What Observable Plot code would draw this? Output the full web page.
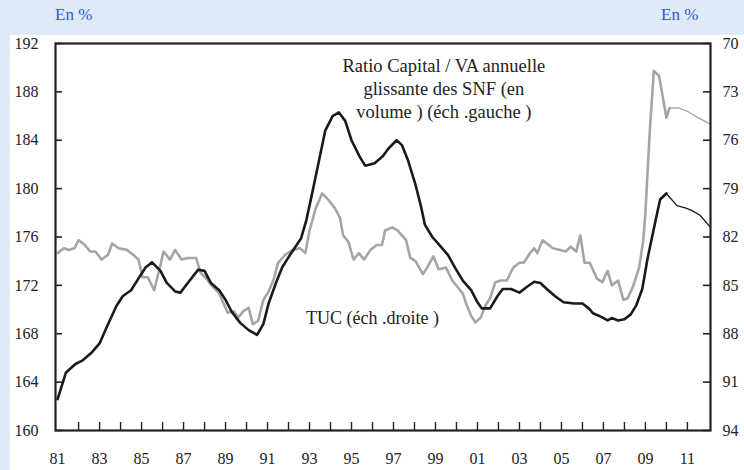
<!DOCTYPE html>
<html><head><meta charset="utf-8">
<script src="https://cdn.jsdelivr.net/npm/d3@7"></script>
<script src="https://cdn.jsdelivr.net/npm/@observablehq/plot@0.6"></script>
<style>
html,body{margin:0;padding:0;background:#dfe9f7;}
</style></head>
<body>
<div id="wrap" style="position:relative;width:744px;height:470px;background:#dfe9f7;overflow:hidden;font-family:'Liberation Serif'">
  <div style="position:absolute;top:5px;left:55px;font-size:17px;color:#2a5bd0;font-family:'Liberation Serif'">En %</div>
  <div style="position:absolute;top:5px;left:661px;font-size:17px;color:#2a5bd0;font-family:'Liberation Serif'">En %</div>
  <div id="chart" style="position:absolute;left:10px;top:35px;width:734px;height:435px;background:#fff;"></div>
</div>
<script>
// Ratio Capital / VA (left axis)
const capYears = [1981.0,1981.4,1981.85,1982.2,1982.6,1983.0,1983.3,1983.8,1984.1,1984.5,1984.9,1985.2,1985.5,1985.9,1986.2,1986.6,1986.85,1987.2,1987.7,1988.0,1988.3,1988.7,1989.0,1989.3,1989.7,1990.1,1990.5,1990.8,1991.05,1991.4,1991.7,1992.1,1992.6,1992.85,1993.1,1993.4,1993.75,1994.1,1994.4,1994.7,1995.0,1995.4,1995.65,1996.1,1996.5,1996.75,1997.15,1997.4,1997.7,1998.05,1998.3,1998.5,1998.85,1999.2,1999.6,1999.95,2000.3,2000.7,2001.0,2001.2,2001.6,2001.95,2002.2,2002.6,2003.0,2003.3,2003.7,2004.0,2004.3,2004.7,2005.1,2005.6,2006.0,2006.3,2006.5,2006.9,2007.2,2007.4,2007.7,2008.0,2008.3,2008.55,2008.85,2009.1,2009.45,2009.7,2010.0];
const capValues = [162.6,164.8,165.5,165.8,166.4,167.2,168.4,170.3,171.1,171.6,172.7,173.5,173.9,173.2,172.2,171.5,171.4,172.2,173.3,173.2,172.2,171.6,170.8,169.8,168.9,168.3,167.9,168.8,170.5,172.2,173.5,174.6,175.9,177.4,179.4,181.9,184.8,186.0,186.3,185.6,184.0,182.6,181.9,182.1,182.7,183.3,184.0,183.6,182.3,180.3,178.6,177.0,176.0,175.3,174.5,173.4,172.4,171.6,170.6,170.1,170.1,171.1,171.7,171.7,171.4,171.8,172.3,172.2,171.7,171.1,170.6,170.5,170.5,170.1,169.7,169.4,169.1,169.3,169.1,169.2,169.6,170.3,171.7,174.2,177.1,179.1,179.6];
const capForecastYears = [2010.0,2010.5,2010.9,2011.2,2011.6,2012.1];
const capForecastValues = [179.6,178.6,178.4,178.2,177.8,176.8];

// TUC (right axis, inverted)
const tucYears = [1981.0,1981.3,1981.55,1981.8,1982.0,1982.3,1982.55,1982.8,1983.1,1983.4,1983.6,1983.9,1984.3,1984.6,1984.85,1985.05,1985.3,1985.6,1985.85,1986.05,1986.35,1986.6,1986.9,1987.2,1987.6,1987.8,1988.1,1988.4,1988.7,1989.0,1989.1,1989.4,1989.6,1989.85,1990.1,1990.3,1990.55,1990.8,1991.05,1991.3,1991.5,1991.85,1992.2,1992.55,1992.8,1993.0,1993.3,1993.6,1993.9,1994.2,1994.45,1994.6,1994.85,1995.1,1995.35,1995.6,1995.9,1996.2,1996.45,1996.6,1996.95,1997.2,1997.6,1997.8,1998.05,1998.4,1998.6,1998.9,1999.15,1999.5,1999.8,2000.05,2000.3,2000.45,2000.7,2000.9,2001.15,2001.4,2001.6,2001.85,2002.1,2002.4,2002.7,2003.0,2003.2,2003.5,2003.7,2003.85,2004.1,2004.6,2004.95,2005.2,2005.45,2005.7,2005.9,2006.1,2006.35,2006.7,2006.95,2007.2,2007.4,2007.7,2007.95,2008.15,2008.4,2008.7,2008.9,2009.0,2009.2,2009.4,2009.65,2010.0,2010.15];
const tucValues = [83.0,82.7,82.8,82.7,82.2,82.5,82.9,82.9,83.4,83.1,82.4,82.7,82.8,83.1,83.4,84.5,84.5,85.3,84.0,82.9,83.4,82.8,83.4,83.3,83.3,84.2,84.6,85.1,85.5,86.4,86.7,86.6,87.0,86.6,86.4,87.4,87.2,85.9,85.4,84.6,83.6,83.1,82.8,82.7,83.0,81.6,80.2,79.3,79.7,80.2,80.8,81.9,82.3,83.4,83.0,83.4,82.8,82.5,82.5,81.6,81.4,81.6,82.2,83.3,83.5,84.3,83.9,83.2,84.0,83.9,84.7,85.1,85.5,86.1,86.9,87.3,87.0,86.2,85.8,84.8,84.7,84.7,83.9,83.6,83.6,83.0,82.7,83.0,82.2,82.7,82.8,82.9,82.6,82.9,81.9,83.6,83.6,84.6,84.8,84.1,85.0,84.7,85.9,85.8,85.1,83.9,82.2,80.5,75.6,71.7,72.0,74.6,74.0];
const tucForecastYears = [2010.15,2010.6,2011.0,2011.5,2012.1];
const tucForecastValues = [74.0,74.0,74.2,74.6,75.0];

const leftTicks = [160,164,168,172,176,180,184,188,192];
const rightTicks = [70,73,76,79,82,85,88,91,94];
const yearTicks = d3.range(1981, 2012);

const labelCap = "Ratio Capital / VA annuelle\nglissante des SNF (en\nvolume ) (éch .gauche )";
const labelTuc = "TUC (éch .droite )";

// map right (inverted) axis onto left scale
const toLeft = d3.scaleLinear().domain([70, 94]).range([192, 160]);
const toRight = toLeft.invert;

const cap = capYears.map((x, i) => ({x, y: capValues[i]}));
const capF = capForecastYears.map((x, i) => ({x, y: capForecastValues[i]}));
const tuc = tucYears.map((x, i) => ({x, y: toLeft(tucValues[i])}));
const tucF = tucForecastYears.map((x, i) => ({x, y: toLeft(tucForecastValues[i])}));

const W = 734, H = 435, ML = 45, MR = 34, MT = 8, MB = 40;
const FW = W - ML - MR, FH = H - MT - MB;
const ink = "#222";
const serif = "Liberation Serif";
const chart = Plot.plot({
  width: W, height: H,
  marginLeft: ML, marginRight: MR, marginTop: MT, marginBottom: MB,
  style: {fontFamily: serif, fontSize: "16px", color: ink, background: "#fff"},
  x: {domain: [1980.9, 2012.1]},
  y: {domain: [160, 192]},
  marks: [
    Plot.axisY({anchor: "left", ticks: leftTicks, tickSize: 0, tickPadding: 17, label: null, fontSize: 16}),
    Plot.axisY({anchor: "right", ticks: rightTicks.map(toLeft), tickFormat: v => String(Math.round(toRight(v))), tickSize: 0, tickPadding: 12, label: null, fontSize: 16}),
    Plot.axisX({ticks: yearTicks, tickFormat: d => d % 2 ? String(d % 100).padStart(2, "0") : "", tickSize: 0, tickPadding: 22, label: null, fontSize: 16}),
    Plot.tickY(leftTicks, {y: d => d, insetRight: FW - 7, stroke: ink, strokeWidth: 1.6}),
    Plot.tickY(rightTicks.map(toLeft), {y: d => d, insetLeft: FW - 7, stroke: ink, strokeWidth: 1.6}),
    Plot.tickX(yearTicks.slice(1), {x: d => d, insetTop: FH - 8, stroke: ink, strokeWidth: 1.4}),
    Plot.line(tuc, {x: "x", y: "y", stroke: "#a2a6ab", strokeWidth: 2.6}),
    Plot.line(tucF, {x: "x", y: "y", stroke: "#a2a6ab", strokeWidth: 1.3}),
    Plot.line(cap, {x: "x", y: "y", stroke: "#1a1a1a", strokeWidth: 2.6}),
    Plot.line(capF, {x: "x", y: "y", stroke: "#1a1a1a", strokeWidth: 1.3}),
    Plot.text([labelCap], {x: 1999.4, y: 185.8, text: d => d, lineAnchor: "bottom", lineHeight: 1.25, fontSize: 18.5, fill: ink}),
    Plot.text([labelTuc], {x: 1996.0, y: 168.77, text: d => d, lineAnchor: "bottom", fontSize: 18, fill: ink}),
    Plot.frame({stroke: ink, strokeWidth: 2.2})
  ]
});
document.getElementById("chart").appendChild(chart);
</script>
</body></html>
